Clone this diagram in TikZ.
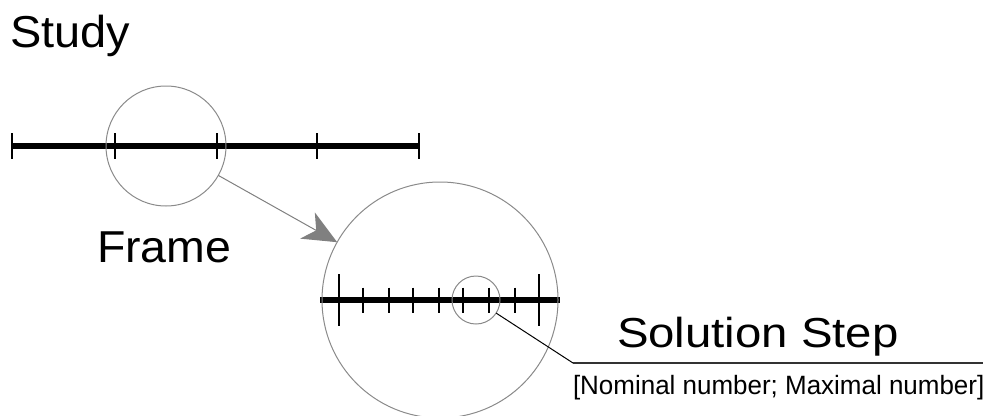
\documentclass[tikz,border=0pt]{standalone}
\usepackage{fontspec}
\usepackage{graphicx}
\setmainfont{Liberation Sans}
\usetikzlibrary{arrows.meta}
\definecolor{ringgray}{HTML}{8A8A8A}
\definecolor{arrowgray}{HTML}{808080}
\newcommand{\lbltxt}[3]{\fontsize{#2pt}{#2pt}\selectfont\scalebox{#1}[1]{#3}}
\begin{document}
\begin{tikzpicture}[x=1pt,y=-1pt,
  ring/.style={circle,draw=ringgray,line width=1pt,inner sep=0pt,outer sep=0pt},
  axis/.style={line width=5.5pt,black},
  tickmark/.style={line width=2pt,black},
  lbl/.style={inner sep=0pt,outer sep=0pt,anchor=base west,text=black}]
\useasboundingbox (0,0) rectangle (984,415);
% top study line
\draw[axis] (12,146) -- (420,146);
\foreach \x in {12,115,217,317,419}
  \draw[tickmark] (\x,133) -- (\x,159);
% frame line in big circle
\draw[axis] (320,300) -- (560,300);
\foreach \x in {339,539}
  \draw[tickmark] (\x,274) -- (\x,326);
\foreach \x in {363,389,413,439,463,489,515}
  \draw[tickmark] (\x,287.5) -- (\x,312.5);
% circles
\node[ring,minimum size=120pt] (c1) at (166,146) {};
\node[ring,minimum size=236pt] (c2) at (440,300) {};
\node[ring,minimum size=48pt] (c3) at (476,300) {};
% arrow
\draw[arrowgray,line width=1pt,-{Stealth[length=34pt,width=30pt,inset=10pt]}] (c1) -- (c2);
% leader
\coordinate (k) at (573,363);
\coordinate (e) at (983,363);
\draw[black,line width=1pt] (c3) -- (k);
\draw[black!80,line width=1.3pt] (k) -- (e);
% texts
\node[lbl] (study) at (10,47) {\lbltxt{1.05}{44.7}{Study}};
\node[lbl] (frame) at (97,262) {\lbltxt{1.04}{44.7}{Frame}};
\node[lbl] (sol) at (617,347) {\lbltxt{1.13}{41.9}{Solution Step}};
\node[lbl] (rng) at (573,394) {\lbltxt{0.98}{26.5}{[Nominal number; Maximal number]}};
\end{tikzpicture}
\end{document}
